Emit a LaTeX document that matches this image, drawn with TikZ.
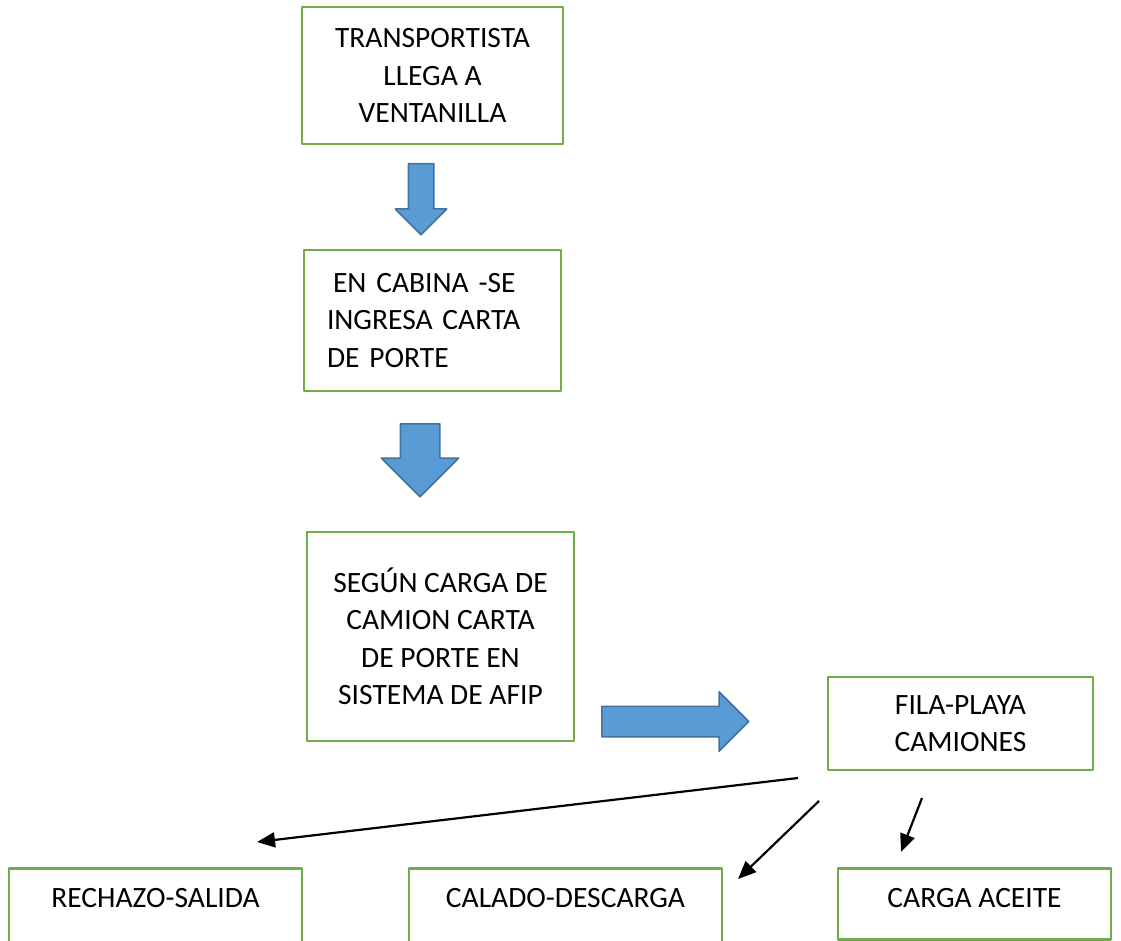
\documentclass[tikz,border=0pt]{standalone}
\usepackage{fontspec}
\setmainfont{Carlito}
\usetikzlibrary{shapes.arrows,arrows.meta}
\definecolor{verde}{HTML}{70AD47}
\definecolor{azul}{HTML}{5B9BD5}
\definecolor{azulborde}{HTML}{41719C}
\begin{document}
\begin{tikzpicture}[x=1pt,y=-1pt,>={Triangle[length=18pt,width=15pt]},line join=round,font=\fontsize{29.5}{37.5}\selectfont]
\tikzset{caja/.style={draw=verde,line width=2.5pt,inner sep=0pt,align=center},
  flecha/.style={single arrow,draw=azulborde,fill=azul,line width=1.5pt,inner xsep=0pt,single arrow tip angle=90,anchor=tail},
  linea/.style={->,line width=2.2pt}}
\useasboundingbox (0,0) rectangle (1121,941);
\clip (0,0) rectangle (1121,941);
% cajas
\node[caja,minimum width=261pt,minimum height=137pt] (llega) at (432.5,75.5) {TRANSPORTISTA\\LLEGA A\\VENTANILLA};
\node[caja,minimum width=257pt,minimum height=141pt,text width=211pt,align=left] (cabina) at (432.5,320.5) {\hspace*{6pt}EN CABINA -SE\\INGRESA CARTA\\DE PORTE};
\node[caja,minimum width=267pt,minimum height=209pt] (sistema) at (440.5,636.5) {SEGÚN CARGA DE\\CAMION CARTA\\DE PORTE EN\\SISTEMA DE AFIP};
\node[caja,minimum width=265pt,minimum height=93pt] (fila) at (960.5,723.5) {FILA-PLAYA\\CAMIONES};
\node[caja,anchor=north,minimum width=293pt,text height=39pt,text depth=70pt] (rechazo) at (155.5,867) {RECHAZO-SALIDA};
\node[caja,anchor=north,minimum width=313pt,text height=39pt,text depth=70pt] (calado) at (565.5,867) {CALADO-DESCARGA};
\node[caja,anchor=north,minimum width=273pt,text height=39pt,text depth=32pt] (aceite) at (974.5,867) {CARGA ACEITE};
% flechas azules
\node[flecha,rotate=-90,minimum height=71pt,inner ysep=12pt,single arrow head extend=13pt] (f1) at (421,163) {};
\node[flecha,rotate=-90,minimum height=73pt,inner ysep=19pt,single arrow head extend=19pt] (f2) at (420,423) {};
\node[flecha,minimum height=147pt,inner ysep=14.5pt,single arrow head extend=14.5pt] (f3) at (601,721.5) {};
% flechas negras
\coordinate (s1) at (798,778);
\coordinate (s2) at (819,801);
\coordinate (s3) at (922,798);
\coordinate (t1) at (257,842);
\coordinate (t2) at (738,879);
\coordinate (t3) at (901,852);
\draw[linea] (s1) -- (t1);
\draw[linea] (s2) -- (t2);
\draw[linea] (s3) -- (t3);
\end{tikzpicture}
\end{document}
